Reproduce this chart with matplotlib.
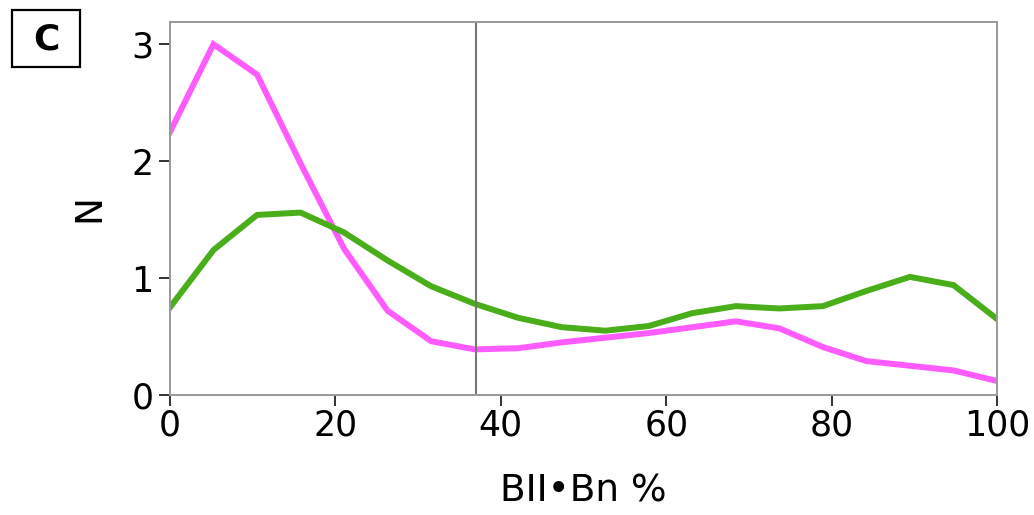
import matplotlib
matplotlib.use("Agg")
import matplotlib.pyplot as plt
from matplotlib.patches import Rectangle

# bin centres (%)
x_pos = [0, 5.26, 10.53, 15.79, 21.05, 26.32, 31.58, 36.84, 42.11, 47.37,
         52.63, 57.89, 63.16, 68.42, 73.68, 78.95, 84.21, 89.47, 94.74, 100]
pink_n = [2.25, 3.0, 2.74, 1.98, 1.25, 0.72, 0.46, 0.39, 0.40, 0.45,
          0.49, 0.53, 0.58, 0.63, 0.57, 0.41, 0.29, 0.25, 0.21, 0.12]
green_n = [0.75, 1.24, 1.54, 1.56, 1.39, 1.15, 0.93, 0.78, 0.66, 0.58,
           0.55, 0.59, 0.70, 0.76, 0.74, 0.76, 0.89, 1.01, 0.94, 0.65]
x_marker = 37
x_ticks = [0, 20, 40, 60, 80, 100]
y_ticks = [0, 1, 2, 3]
panel = "C"

W, H = 1034, 515
fig = plt.figure(figsize=(W / 100, H / 100), dpi=100)
ax = fig.add_axes([170 / W, 1 - 395 / H, 827 / W, 373 / H])

ax.plot(x_pos, pink_n, color="#ff5cff", lw=4.3, solid_joinstyle="miter")
ax.plot(x_pos, green_n, color="#4aad1a", lw=4.3, solid_joinstyle="miter")
ax.axvline(x_marker, color="#777777", lw=1.5)

ax.set_xlim(0, 100)
ax.set_ylim(0, 3.19)
ax.set_xticks(x_ticks)
ax.set_yticks(y_ticks)
ax.tick_params(labelsize=25, length=8, width=1.3, color="#222222", pad=2)
ax.tick_params(axis="y", pad=4)
for s in ax.spines.values():
    s.set_color("#999999")
    s.set_linewidth(1.4)

ax.set_xlabel("BII\u2022Bn %", fontsize=27, labelpad=22)
ax.set_ylabel("N", fontsize=27, labelpad=17)

# panel letter in a box (figure pixel coords)
fig.patches.append(Rectangle((12 / W, 1 - 67 / H), 68 / W, 57 / H, transform=fig.transFigure,
                             fc="white", ec="black", lw=1.6))
fig.text(46 / W, 1 - 39 / H, panel, fontsize=26, fontweight="bold", ha="center", va="center")

fig.savefig("out.png", dpi=100)
